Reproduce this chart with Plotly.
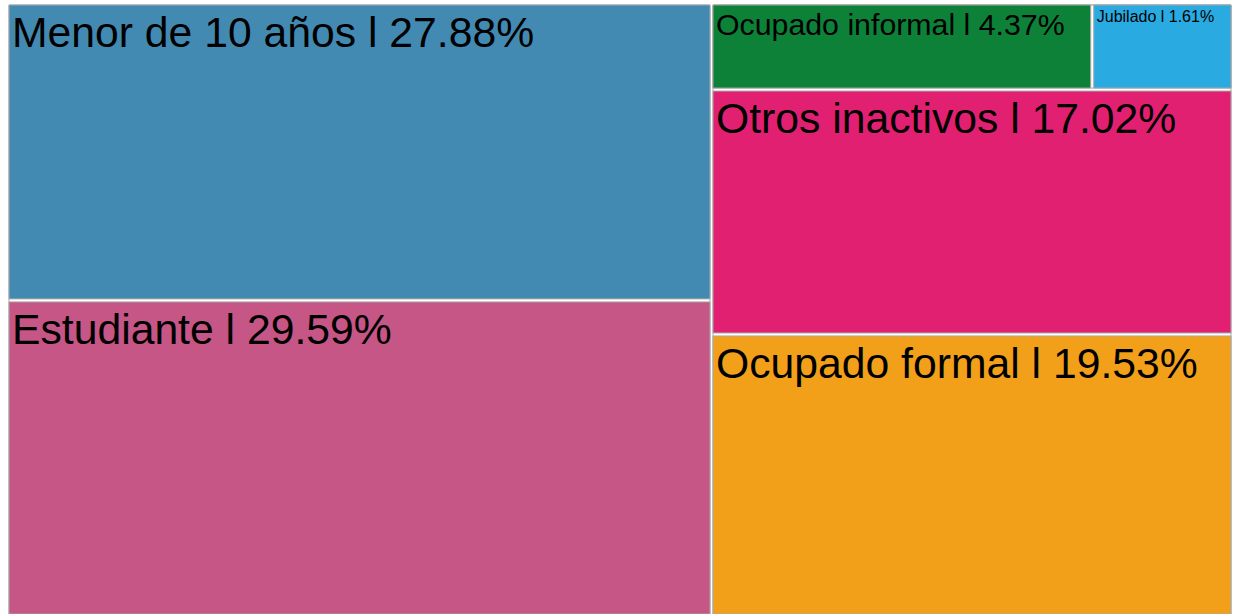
import plotly.graph_objects as go

# Data
categories = ["Menor de 10 años", "Estudiante", "Ocupado informal", "Jubilado",
              "Otros inactivos", "Ocupado formal"]
percentages = [27.88, 29.59, 4.37, 1.61, 17.02, 19.53]
groups = ["A", "A", "B1", "B1", "B", "B"]   # layout grouping (invisible)

# Styles
colors = ["#438ab2", "#c55686", "#0e8138", "#29abe2", "#e22072", "#f2a01a"]
font_sizes = [42.7, 42.7, 30.3, 16, 42.7, 42.7]

group_ids = ["A", "B", "B1"]
group_parents = ["", "", "B"]

ids = group_ids + categories
parents = group_parents + groups
values = [0, 0, 0] + percentages
texts = ["", "", ""] + [f"{c} l {p:.2f}%" for c, p in zip(categories, percentages)]
mcolors = ["white", "white", "white"] + colors
fsizes = [10, 10, 10] + font_sizes

fig = go.Figure(go.Treemap(
    ids=ids,
    labels=ids,
    parents=parents,
    values=values,
    branchvalues="remainder",
    sort=False,
    text=texts,
    textinfo="text",
    texttemplate="%{text}",
    textposition="top left",
    textfont=dict(family="Liberation Sans, Arial, sans-serif", size=fsizes, color="black"),
    marker=dict(colors=mcolors, line=dict(color="#a8a8a8", width=1),
                pad=dict(t=0, l=0, r=0, b=0), depthfade=False),
    tiling=dict(packing="slice-dice"),
    pathbar=dict(visible=False),
    hoverinfo="skip",
))

fig.update_layout(
    width=1233, height=614,
    margin=dict(l=9, r=2, t=5, b=0),
    paper_bgcolor="white",
)

fig.write_html(
    "out.html",
    config={"displayModeBar": False},
    post_script="document.body.style.margin='0';document.body.style.overflow='hidden';"
                "document.documentElement.style.overflow='hidden';",
)
